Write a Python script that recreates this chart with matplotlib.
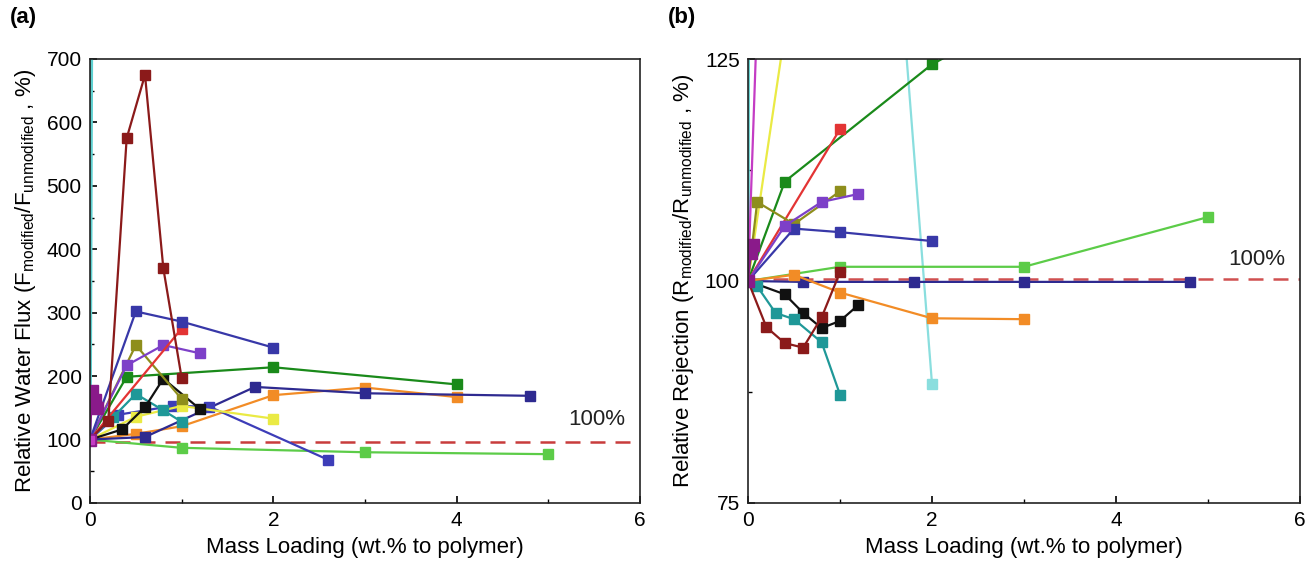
import matplotlib
matplotlib.use("Agg")
import matplotlib.pyplot as plt
from matplotlib.ticker import MultipleLocator

plt.rcParams['font.family'] = ['Liberation Sans', 'DejaVu Sans']

# ---------------- Panel (a): relative water flux ----------------
a_maroon_x = [0, 0.2, 0.4, 0.6, 0.8, 1.0]
a_maroon_y = [100, 130, 575, 675, 370, 197]
a_blue_x = [0, 0.5, 1.0, 2.0]
a_blue_y = [100, 302, 286, 245]
a_red_x = [0, 1.0]
a_red_y = [100, 275]
a_violet_x = [0, 0.4, 0.8, 1.2]
a_violet_y = [100, 217, 249, 236]
a_olive_x = [0, 0.5, 1.0]
a_olive_y = [100, 249, 164]
a_yellow_x = [0, 0.5, 1.0, 2.0]
a_yellow_y = [100, 136, 153, 133]
a_green_x = [0, 0.4, 2.0, 4.0]
a_green_y = [100, 199, 214, 187]
a_black_x = [0, 0.35, 0.6, 0.8, 1.2]
a_black_y = [100, 116, 151, 196, 148]
a_teal_x = [0, 0.25, 0.5, 0.8, 1.0]
a_teal_y = [100, 135, 172, 146, 128]
a_mblue_x = [0, 0.3, 0.9, 1.3, 2.6]
a_mblue_y = [100, 139, 153, 152, 68]
a_navy_x = [0, 0.6, 1.8, 3.0, 4.8]
a_navy_y = [100, 104, 183, 173, 169]
a_orange_x = [0, 0.5, 1.0, 2.0, 3.0, 4.0]
a_orange_y = [100, 109, 121, 170, 182, 167]
a_lgreen_x = [0, 1.0, 3.0, 5.0]
a_lgreen_y = [100, 87, 80, 77]
a_cyan_x = [0, 0.02]
a_cyan_y = [100, 900]
a_purple_x = [0, 0.02, 0.05, 0.08]
a_purple_y = [100, 176, 162, 150]
a_ref = 96

# ---------------- Panel (b): relative rejection ----------------
b_green_x = [0, 0.4, 2.0, 3.0]
b_green_y = [100, 111.2, 124.4, 130]
b_red_x = [0, 1.0]
b_red_y = [100, 117.1]
b_olive_x = [0, 0.1, 0.5, 1.0]
b_olive_y = [100, 108.9, 106.4, 110.1]
b_violet_x = [0, 0.4, 0.8, 1.2]
b_violet_y = [100, 106.2, 108.9, 109.8]
b_blue_x = [0, 0.5, 1.0, 2.0]
b_blue_y = [100, 105.9, 105.5, 104.5]
b_lgreen_x = [0, 1.0, 3.0, 5.0]
b_lgreen_y = [100, 101.6, 101.6, 107.2]
b_navy_x = [0, 0.6, 1.8, 3.0, 4.8]
b_navy_y = [100, 99.9, 99.9, 99.9, 99.9]
b_orange_x = [0, 0.5, 1.0, 2.0, 3.0]
b_orange_y = [100, 100.7, 98.7, 95.8, 95.7]
b_black_x = [0, 0.4, 0.6, 0.8, 1.0, 1.2]
b_black_y = [100, 98.5, 96.4, 94.7, 95.5, 97.3]
b_teal_x = [0, 0.1, 0.3, 0.5, 0.8, 1.0]
b_teal_y = [100, 99.4, 96.4, 95.7, 93.1, 87.2]
b_maroon_x = [0, 0.2, 0.4, 0.6, 0.8, 1.0]
b_maroon_y = [100, 94.8, 93.0, 92.5, 95.9, 101.0]
b_lcyan_x = [1.5, 2.0]
b_lcyan_y = [155, 88.4]
b_cyan_x = [0, 0.01]
b_cyan_y = [100, 200]
b_magenta_x = [0, 0.1]
b_magenta_y = [100, 130]
b_yellow_x = [0, 0.4]
b_yellow_y = [100, 128]
b_purple_x = [0, 0.03, 0.05]
b_purple_y = [100, 103.2, 104.1]
b_ref = 100.2

C = dict(maroon='#8b1a1a', blue='#3838a8', red='#e33434', violet='#7d40c8',
         olive='#8e8e1c', yellow='#eaea44', green='#1a8a1a', black='#111111',
         teal='#1f9898', mblue='#3d3db8', navy='#2e2a90', orange='#f28c26',
         lgreen='#5ccc48', cyan='#5ed0d0', lcyan='#8adede', purple='#8a1a8a',
         magenta='#c43cc4')

fig = plt.figure(figsize=(13.07, 5.61), dpi=100)
axa = fig.add_axes([90/1307, 1-503/561, 550/1307, 444/561])
axb = fig.add_axes([748/1307, 1-503/561, 552/1307, 444/561])

def draw(ax, x, y, c, ms=7.3, marker='s', lw=1.6):
    ax.plot(x, y, color=c, lw=lw, marker=marker, ms=ms, mec=c, mfc=c, clip_on=True)

# (a)
axa.axhline(a_ref, color='#c83c3c', ls=(0, (6, 4)), lw=1.8, zorder=1)
draw(axa, a_cyan_x, a_cyan_y, C['cyan'], marker=None, lw=2.5)
draw(axa, a_lgreen_x, a_lgreen_y, C['lgreen'])
draw(axa, a_orange_x, a_orange_y, C['orange'])
draw(axa, a_navy_x, a_navy_y, C['navy'])
draw(axa, a_mblue_x, a_mblue_y, C['mblue'])
draw(axa, a_yellow_x, a_yellow_y, C['yellow'])
draw(axa, a_teal_x, a_teal_y, C['teal'])
draw(axa, a_black_x, a_black_y, C['black'])
draw(axa, a_green_x, a_green_y, C['green'])
draw(axa, a_olive_x, a_olive_y, C['olive'])
draw(axa, a_violet_x, a_violet_y, C['violet'])
draw(axa, a_red_x, a_red_y, C['red'])
draw(axa, a_blue_x, a_blue_y, C['blue'])
draw(axa, a_maroon_x, a_maroon_y, C['maroon'])
draw(axa, a_purple_x, a_purple_y, C['purple'], ms=9)
axa.plot([0], [100], marker='s', ms=6, color=C['magenta'])
axa.set_xlim(0, 6)
axa.set_ylim(0, 700)
axa.xaxis.set_major_locator(MultipleLocator(2))
axa.xaxis.set_minor_locator(MultipleLocator(1))
axa.yaxis.set_major_locator(MultipleLocator(100))
axa.yaxis.set_minor_locator(MultipleLocator(50))
axa.text(5.22, 123, '100%', fontsize=16, color='#222222')
axa.set_xlabel('Mass Loading (wt.% to polymer)', fontsize=16, labelpad=5)
axa.set_ylabel(r'Relative Water Flux (F$_{\mathregular{modified}}$/F$_{\mathregular{unmodified}}$ , %)',
               fontsize=16, labelpad=6)

# (b)
axb.axhline(b_ref, color='#d05050', ls=(0, (6, 4)), lw=1.8, zorder=1)
draw(axb, b_cyan_x, b_cyan_y, C['cyan'], marker=None, lw=2.5)
draw(axb, b_lcyan_x, b_lcyan_y, C['lcyan'])
draw(axb, b_magenta_x, b_magenta_y, C['magenta'], marker=None)
draw(axb, b_yellow_x, b_yellow_y, C['yellow'], marker=None)
draw(axb, b_lgreen_x, b_lgreen_y, C['lgreen'])
draw(axb, b_navy_x, b_navy_y, C['navy'])
draw(axb, b_orange_x, b_orange_y, C['orange'])
draw(axb, b_black_x, b_black_y, C['black'])
draw(axb, b_teal_x, b_teal_y, C['teal'])
draw(axb, b_maroon_x, b_maroon_y, C['maroon'])
draw(axb, b_green_x, b_green_y, C['green'])
draw(axb, b_red_x, b_red_y, C['red'])
draw(axb, b_olive_x, b_olive_y, C['olive'])
draw(axb, b_blue_x, b_blue_y, C['blue'])
draw(axb, b_violet_x, b_violet_y, C['violet'])
draw(axb, b_purple_x, b_purple_y, C['purple'], ms=9)
axb.set_xlim(0, 6)
axb.set_ylim(75, 125)
axb.xaxis.set_major_locator(MultipleLocator(2))
axb.xaxis.set_minor_locator(MultipleLocator(1))
axb.yaxis.set_major_locator(MultipleLocator(25))
axb.yaxis.set_minor_locator(MultipleLocator(12.5))
axb.text(5.22, 101.8, '100%', fontsize=16, color='#222222')
axb.set_xlabel('Mass Loading (wt.% to polymer)', fontsize=16, labelpad=5)
axb.set_ylabel(r'Relative Rejection (R$_{\mathregular{modified}}$/R$_{\mathregular{unmodified}}$ , %)',
               fontsize=16, labelpad=6)

for ax in (axa, axb):
    ax.tick_params(which='both', direction='in', labelsize=15, top=False, right=False)
    ax.tick_params(which='major', length=5, width=1.2, pad=6)
    ax.tick_params(which='minor', length=3, width=1)
    for s in ax.spines.values():
        s.set_linewidth(1.2)
        s.set_color('#222222')

fig.text(10/1307, 1-18/561, '(a)', fontsize=16, fontweight='bold', va='center')
fig.text(668/1307, 1-18/561, '(b)', fontsize=16, fontweight='bold', va='center')

fig.savefig('out.png', dpi=100, facecolor='white')
